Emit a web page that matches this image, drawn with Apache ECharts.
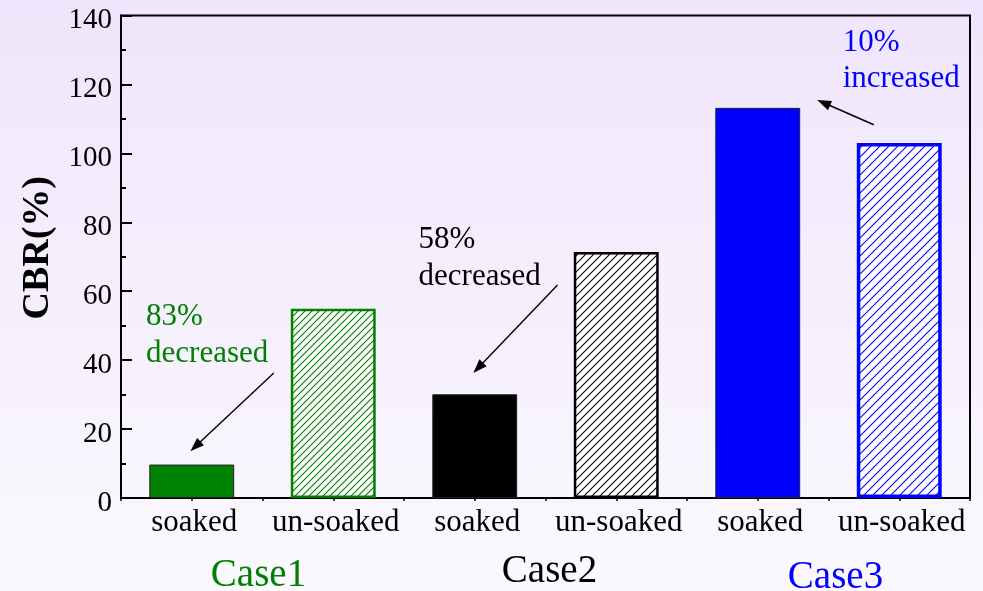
<!DOCTYPE html>
<html>
<head>
<meta charset="utf-8">
<script src="https://cdn.jsdelivr.net/npm/echarts@6/dist/echarts.min.js"></script>
<style>
  html, body { margin: 0; padding: 0; }
  #chart { width: 983px; height: 591px; }
</style>
</head>
<body>
<div id="chart"></div>
<script>
// CBR of each case, soaked vs. un-soaked
const categories = ['soaked', 'un-soaked', 'soaked', 'un-soaked', 'soaked', 'un-soaked'];
const cbrValues = [9.7, 54.9, 30.1, 71.4, 113.2, 103.0];
const caseNames = ['Case1', 'Case2', 'Case3'];
const caseColors = ['#008000', '#000000', '#0000ff'];
const annotationTexts = [['83%', 'decreased'], ['58%', 'decreased'], ['10%', 'increased']];
const yMin = 0, yMax = 140, yStep = 20;

const SERIF = "'Liberation Serif', 'Times New Roman', serif";

// diagonal "/" hatch tile
function hatch(color, size) {
  const c = document.createElement('canvas');
  c.width = size; c.height = size;
  const g = c.getContext('2d');
  g.fillStyle = '#ffffff';
  g.fillRect(0, 0, size, size);
  g.strokeStyle = color;
  g.lineWidth = 1.1;
  g.beginPath();
  g.moveTo(-1, size + 1); g.lineTo(size + 1, -1);
  g.moveTo(-1, 1); g.lineTo(1, -1);
  g.moveTo(size - 1, size + 1); g.lineTo(size + 1, size - 1);
  g.stroke();
  return c;
}

const hatchSizes = [7, 8, 9];
const hatchBorder = [2.5, 2.5, 3.5];
const tiles = caseColors.map((c, k) => hatch(c, hatchSizes[k]));

const barData = cbrValues.map((v, i) => {
  const k = Math.floor(i / 2);
  const soaked = i % 2 === 0;
  return {
    value: v,
    itemStyle: soaked
      ? { color: caseColors[k], borderColor: '#222', borderWidth: 1 }
      : { color: { image: tiles[k], repeat: 'repeat' },
          borderColor: caseColors[k], borderWidth: hatchBorder[k] }
  };
});

const chart = echarts.init(document.getElementById('chart'), null, { renderer: 'canvas' });

const casePads = [[4, 8, 0, 0], [0, 0, 0, 8], [6, 0, 0, 14]];
const caseRich = {};
caseNames.forEach((n, i) => {
  caseRich['c' + i] = { color: caseColors[i], fontSize: 39, fontFamily: SERIF, padding: casePads[i] };
});

chart.setOption({
  animation: false,
  backgroundColor: {
    type: 'linear', x: 0, y: 0, x2: 0, y2: 1,
    colorStops: [{ offset: 0, color: '#efe5fc' }, { offset: 1, color: '#fbf9fe' }]
  },
  grid: {
    left: 121, right: 13, top: 15.5, bottom: 93,
    containLabel: false, outerBoundsMode: 'none',
    show: true, borderColor: '#000', borderWidth: 2, backgroundColor: 'transparent'
  },
  xAxis: [
    {
      type: 'category', data: categories, position: 'bottom',
      axisLine: { lineStyle: { color: '#000', width: 2 } },
      axisTick: { show: true, alignWithLabel: false, length: 3, lineStyle: { color: '#000', width: 1.5 } },
      axisLabel: { color: '#000', fontSize: 31, fontFamily: SERIF, margin: 9, interval: 0, hideOverlap: false, padding: [0, 0, 0, 5] }
    },
    {
      type: 'category', data: categories, position: 'bottom',
      axisLine: { show: false },
      axisTick: { show: true, alignWithLabel: true, length: 3, lineStyle: { color: '#000', width: 1.5 } },
      axisLabel: { show: false }
    },
    {
      type: 'category', data: caseNames, position: 'bottom', offset: 46,
      axisLine: { show: false }, axisTick: { show: false },
      axisLabel: {
        margin: 8, interval: 0,
        formatter: (v, i) => '{c' + i + '|' + v + '}',
        rich: caseRich
      }
    }
  ],
  yAxis: {
    type: 'value', min: yMin, max: yMax, interval: yStep,
    name: 'CBR(%)', nameLocation: 'middle', nameRotate: 90, nameGap: 55,
    nameTextStyle: { color: '#000', fontSize: 38, fontWeight: 'bold', fontFamily: SERIF, padding: [0, 0, 0, 18] },
    axisLine: { show: true, lineStyle: { color: '#000', width: 2 } },
    axisTick: { show: true, inside: true, length: 11, lineStyle: { color: '#000', width: 2 } },
    minorTick: { show: true, splitNumber: 2, length: 5, lineStyle: { color: '#000', width: 2 } },
    splitLine: { show: false },
    axisLabel: { color: '#000', fontSize: 29, fontFamily: SERIF, margin: 9, verticalAlign: 'top', lineHeight: 10 }
  },
  series: [{
    type: 'bar', xAxisIndex: 0, yAxisIndex: 0,
    barWidth: '60%', data: barData
  }]
});

// annotation arrows and notes placed in axis space (category index, CBR value)
function toPx(cat, val) {
  const a = chart.convertToPixel({ xAxisIndex: 0 }, 0);
  const b = chart.convertToPixel({ xAxisIndex: 0 }, 1);
  const y = chart.convertToPixel({ yAxisIndex: 0 }, val);
  return [a + (b - a) * cat, y];
}

const notes = [
  { text: annotationTexts[0], color: caseColors[0], at: [-0.323, 52.7], lineGap: 10.8, from: [0.58, 36.3], to: [-0.01, 13.6] },
  { text: annotationTexts[1], color: caseColors[1], at: [1.603, 75.0], lineGap: 10.9, from: [2.585, 61.8], to: [1.99, 36.3] },
  { text: annotationTexts[2], color: caseColors[2], at: [4.60, 132.2], lineGap: 10.7, from: [4.82, 108.3], to: [4.42, 115.5] }
];

const elements = [];
notes.forEach(n => {
  const p = toPx(n.at[0], n.at[1]);
  const gapPx = toPx(0, 0)[1] - toPx(0, n.lineGap)[1];
  n.text.forEach((t, j) => {
    elements.push({
      type: 'text', x: p[0], y: p[1] + j * gapPx, silent: true,
      style: { text: t, fill: n.color, fontSize: 31, fontFamily: SERIF, align: 'left', verticalAlign: 'middle' }
    });
  });
  const s = toPx(n.from[0], n.from[1]);
  const e = toPx(n.to[0], n.to[1]);
  const dx = e[0] - s[0], dy = e[1] - s[1];
  const len = Math.hypot(dx, dy);
  const ux = dx / len, uy = dy / len;
  const headLen = 14, headHalf = 5;
  const bx = e[0] - ux * headLen, by = e[1] - uy * headLen;
  elements.push({
    type: 'line', silent: true,
    shape: { x1: s[0], y1: s[1], x2: bx + ux * 2, y2: by + uy * 2 },
    style: { stroke: '#000', lineWidth: 1.4 }
  });
  elements.push({
    type: 'polygon', silent: true,
    shape: { points: [[e[0], e[1]], [bx - uy * headHalf, by + ux * headHalf], [bx + uy * headHalf, by - ux * headHalf]] },
    style: { fill: '#000' }
  });
});

chart.setOption({ graphic: { elements: elements } });
</script>
</body>
</html>
